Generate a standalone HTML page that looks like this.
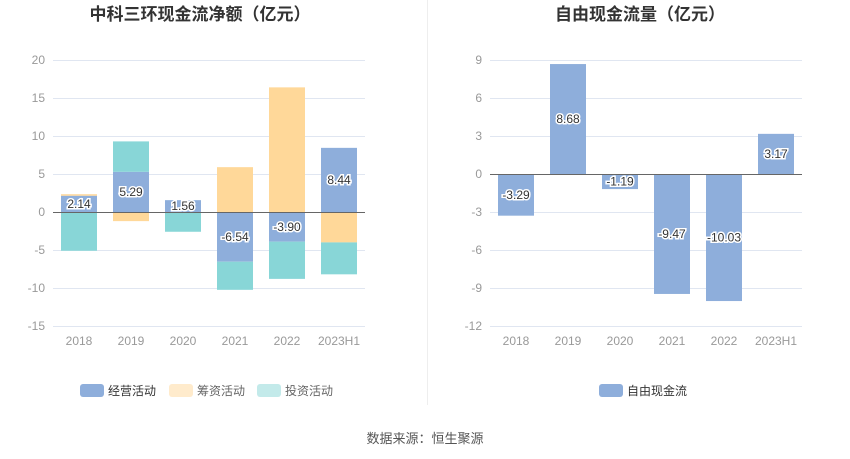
<!DOCTYPE html>
<html><head><meta charset="utf-8"><style>
body{margin:0;width:850px;height:459px;background:#fff;font-family:"Liberation Sans","Noto Sans CJK SC",sans-serif;overflow:hidden}
svg{position:absolute;left:0;top:0}
</style></head><body>
<svg width="850" height="459" id="svg">
<text x="200" y="20" text-anchor="middle" font-size="17" font-weight="bold" fill="#333">中科三环现金流净额（亿元）</text>
<text x="640" y="20" text-anchor="middle" font-size="17" font-weight="bold" fill="#333">自由现金流量（亿元）</text>
<line x1="427.5" y1="0" x2="427.5" y2="405" stroke="#eee"/>
<g id="left"></g>
<g id="right"></g>
<g>
<rect x="80" y="384" width="24" height="13" rx="3" fill="#8eaedb"/>
<text x="108" y="395" font-size="12" fill="#333">经营活动</text>
<rect x="169" y="384" width="24" height="13" rx="3" fill="#ffebcc"/>
<text x="197" y="395" font-size="12" fill="#666">筹资活动</text>
<rect x="257" y="384" width="24" height="13" rx="3" fill="#c3eaea"/>
<text x="285" y="395" font-size="12" fill="#666">投资活动</text>
</g>
<g>
<rect x="599" y="384" width="24" height="13" rx="3" fill="#8eaedb"/>
<text x="627" y="395" font-size="12" fill="#333">自由现金流</text>
</g>
<text x="425" y="443" text-anchor="middle" font-size="13" fill="#555">数据来源：恒生聚源</text>
</svg>
<script>
const categories=["2018","2019","2020","2021","2022","2023H1"];
const operating=[2.14,5.29,1.56,-6.54,-3.90,8.44];
const financing=[0.2,-1.2,0,5.9,16.4,-4.0];
const investing=[-5.1,4.0,-2.6,-3.7,-4.9,-4.2];
const leftTicks=[20,15,10,5,0,-5,-10,-15];
const fcf=[-3.29,8.68,-1.19,-9.47,-10.03,3.17];
const rightTicks=[9,6,3,0,-3,-6,-9,-12];
const NS="http://www.w3.org/2000/svg";
function mk(p,t,a){const e=document.createElementNS(NS,t);for(const k in a)e.setAttribute(k,a[k]);p.appendChild(e);return e;}
function axis(g,x0,x1,yTop,yBot,ticks){
 const mx=ticks[0],mn=ticks[ticks.length-1];
 const y=v=>yTop+(mx-v)/(mx-mn)*(yBot-yTop);
 const bw=(x1-x0)/categories.length;
 const xc=i=>x0+bw*(i+0.5);
 ticks.forEach(t=>{
  const l=mk(g,'line',{x1:x0,x2:x1,y1:y(t)+.5,y2:y(t)+.5,stroke:'#e0e6f1'});
  
  
  const tx=mk(g,'text',{x:x0-8,y:y(t)+4,'text-anchor':'end','font-size':12,fill:'#999'});
  tx.textContent=t;
  
  
 });
 categories.forEach((c,i)=>{
  const tx=mk(g,'text',{x:xc(i),y:yBot+19,'text-anchor':'middle','font-size':12,fill:'#999'});
  tx.textContent=c;
  
  
 });
 return {y,xc};
}
function bar(g,x,ya,yb,fill,name){
 const r=mk(g,'rect',{x:x-18,y:Math.min(ya,yb),width:36,height:Math.abs(yb-ya),fill});
 
 
}
function label(g,x,y,v,name){
 const t=mk(g,'text',{x,y:y+4,'text-anchor':'middle','font-size':12,fill:'#333',stroke:'#fff','stroke-width':3,'paint-order':'stroke'});
 t.textContent=v.toFixed(2);
 
 
}
const L=document.getElementById('left');
const la=axis(L,53,365,60,326,leftTicks);
categories.forEach((c,i)=>{
 let pos=0,neg=0;
 [[operating,'#8eaedb','bar-operating'],[financing,'#ffd899','bar-financing'],[investing,'#88d6d7','bar-investing']].forEach(([arr,col,nm])=>{
  const v=arr[i];if(!v)return;
  let a,b;
  if(v>0){a=pos;b=pos+v;pos=b;}else{a=neg;b=neg+v;neg=b;}
  bar(L,la.xc(i),la.y(a),la.y(b),col,nm);
 });
});
mk(L,'line',{x1:53,x2:365,y1:la.y(0)+.5,y2:la.y(0)+.5,stroke:'#666'});
categories.forEach((c,i)=>label(L,la.xc(i),la.y(operating[i]/2),operating[i],'operating-value-label'));
const R=document.getElementById('right');
const ra=axis(R,490,802,60,326,rightTicks);
categories.forEach((c,i)=>bar(R,ra.xc(i),ra.y(0),ra.y(fcf[i]),'#8eaedb','bar-fcf'));
mk(R,'line',{x1:490,x2:802,y1:ra.y(0)+.5,y2:ra.y(0)+.5,stroke:'#666'});
categories.forEach((c,i)=>label(R,ra.xc(i),ra.y(fcf[i]/2),fcf[i],'fcf-value-label'));
</script>
</body></html>
